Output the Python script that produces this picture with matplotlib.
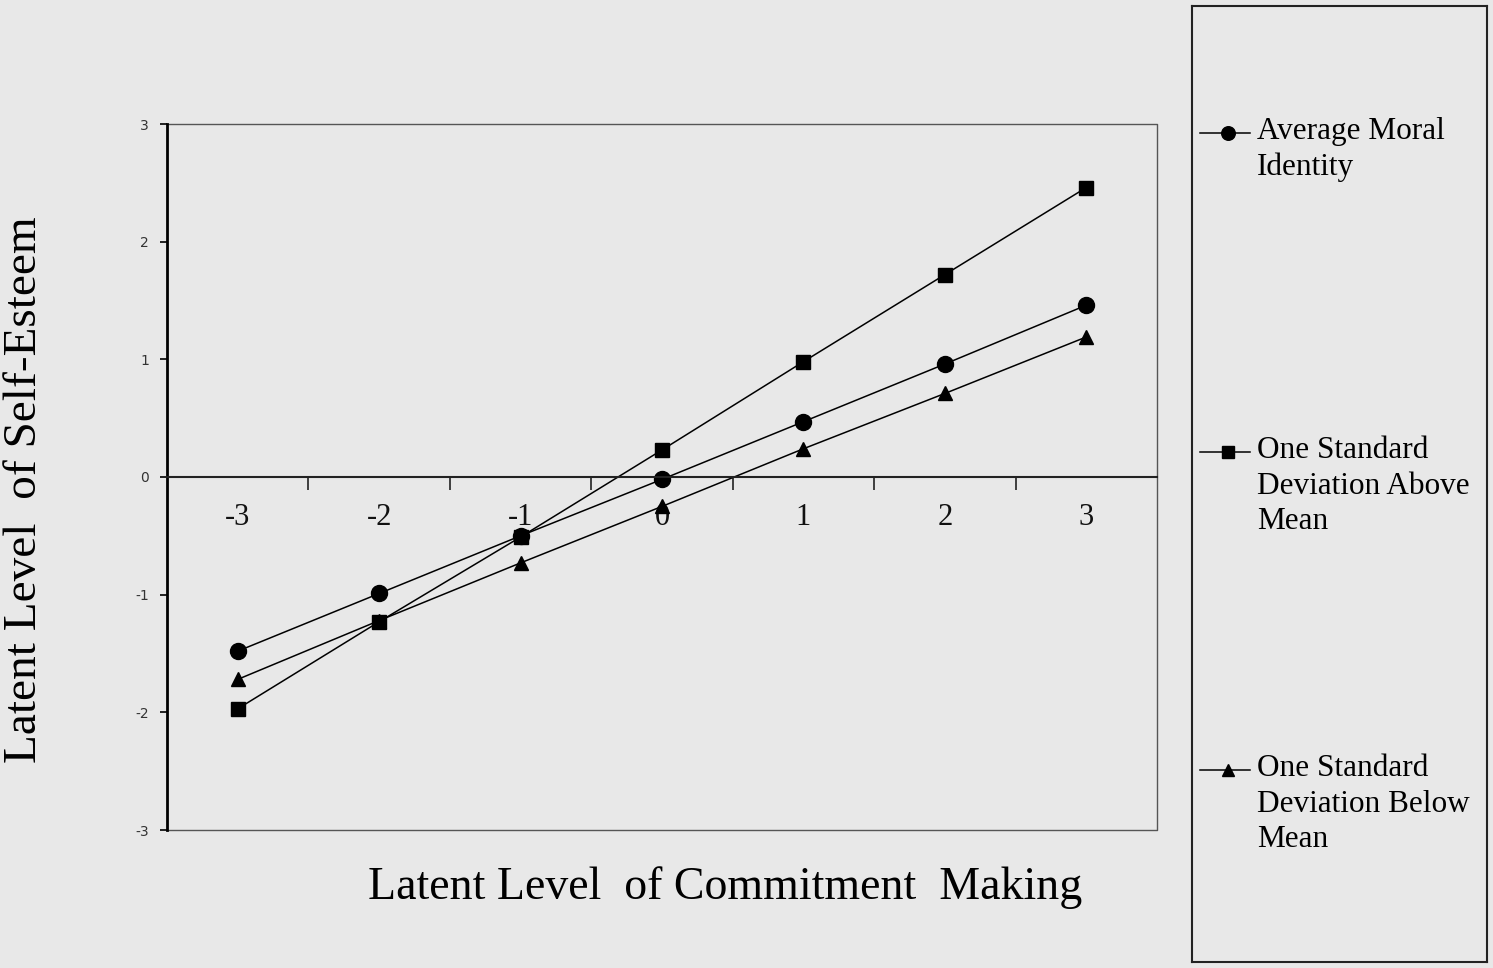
import matplotlib
matplotlib.use("Agg")
import matplotlib.pyplot as plt
import numpy as np

categories = [-3, -2, -1, 0, 1, 2, 3]
avg_moral = [-1.48, -0.99, -0.50, -0.02, 0.47, 0.96, 1.46]
above_mean = [-1.97, -1.23, -0.51, 0.23, 0.98, 1.72, 2.46]
below_mean = [-1.72, -1.22, -0.73, -0.25, 0.24, 0.71, 1.19]
series_labels = ["Average Moral\nIdentity",
                 "One Standard\nDeviation Above\nMean",
                 "One Standard\nDeviation Below\nMean"]
y_ticks = [-3, -2, -1, 0, 1, 2, 3]

BG = "#e8e8e8"
serif = ["Liberation Serif", "DejaVu Serif"]

fig = plt.figure(figsize=(14.93, 9.68), dpi=100, facecolor=BG)
ax = fig.add_axes([167/1493, 1-830/968, (1157-167)/1493, (830-124)/968])
ax.set_facecolor(BG)

x = np.arange(len(categories))
series = [(avg_moral, "o", 11.5), (above_mean, "s", 10), (below_mean, "^", 10)]
for vals, mk, ms in series:
    ax.plot(x, vals, color="black", lw=1.1, marker=mk, markersize=ms,
            markerfacecolor="black", markeredgecolor="black")

ax.set_xlim(-0.5, len(categories) - 0.5)
ax.set_ylim(-3, 3)

for s in ["top", "right"]:
    ax.spines[s].set_visible(False)
ax.spines["left"].set_linewidth(2.0)
ax.spines["left"].set_color("black")
ax.spines["bottom"].set_position(("data", 0))
ax.spines["bottom"].set_linewidth(1.5)
ax.spines["bottom"].set_color("#222222")
ax.plot([0, 1, 1, 0], [1, 1, 0, 0], transform=ax.transAxes, color="#555555",
        lw=1.0, clip_on=False)

ax.set_xticks(x)
ax.set_xticklabels([str(c) for c in categories], fontfamily=serif, fontsize=22)
ax.tick_params(axis="x", which="major", length=0, pad=19, colors="#111111")
ax.set_xticks(np.arange(-0.5, len(categories) - 0.4, 1)[1:-1], minor=True)
ax.tick_params(axis="x", which="minor", length=9, width=1.2, direction="out",
               color="#222222")

ax.set_yticks(y_ticks)
ax.set_yticklabels([str(t) for t in y_ticks], fontsize=10, fontfamily="DejaVu Sans",
                   color="#333333")
ax.tick_params(axis="y", length=5, width=1.2, direction="out", pad=8)

fig.text(725/1493, 1-888/968, "Latent Level  of Commitment  Making",
         fontfamily=serif, fontsize=33, ha="center", va="center")
fig.text(25/1493, 1-490/968, "Latent Level  of Self-Esteem",
         fontfamily=serif, fontsize=34, ha="center", va="center", rotation=90)

# legend box
lx0, lx1, ly0, ly1 = 1192, 1487, 6, 962
lax = fig.add_axes([lx0/1493, 1-ly1/968, (lx1-lx0)/1493, (ly1-ly0)/968])
lax.set_xlim(lx0, lx1)
lax.set_ylim(ly1, ly0)
lax.set_facecolor(BG)
for s in lax.spines.values():
    s.set_linewidth(1.5)
    s.set_color("#222222")
lax.set_xticks([])
lax.set_yticks([])
entry_y = [133, 452, 770]
for (vals, mk, ms), lab, yy in zip(series, series_labels, entry_y):
    lax.plot([1200, 1250], [yy, yy], color="black", lw=1.1)
    lax.plot([1228], [yy], marker=mk, color="black", markersize=ms*0.85)
    lax.text(1257, yy - 16, lab, fontfamily=serif, fontsize=22.5, ha="left",
             va="top", linespacing=1.3)

fig.savefig("out.png", dpi=100, facecolor=BG)
